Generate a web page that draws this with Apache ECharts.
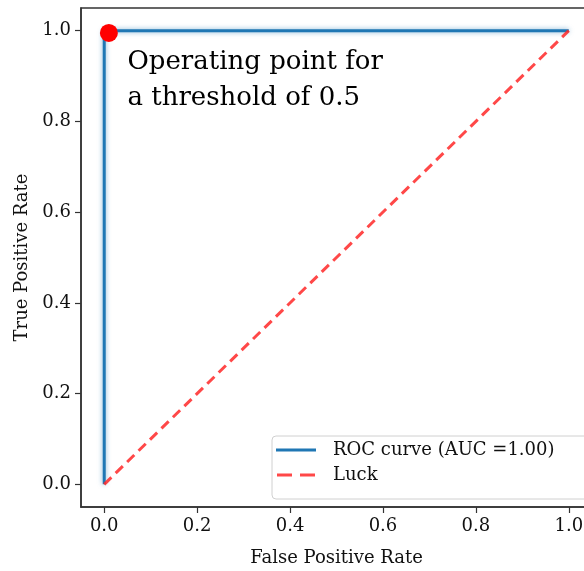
<!DOCTYPE html>
<html>
<head>
<meta charset="utf-8">
<script src="https://cdn.jsdelivr.net/npm/echarts@6/dist/echarts.min.js"></script>
<style>
  html, body { margin: 0; padding: 0; background: #fff; }
  #chart { width: 584px; height: 571px; }
</style>
</head>
<body>
<div id="chart"></div>
<script>
// ROC curve points (fpr, tpr)
const rocFpr = [0.0, 0.0, 1.0]
const rocTpr = [0.0, 1.0, 1.0]
// chance line
const luckFpr = [0.0, 1.0]
const luckTpr = [0.0, 1.0]
// operating point at threshold 0.5
const opPoint = [0.01, 0.995]
const noteAt = [0.05, 0.89]
const noteText = 'Operating point for\na threshold of 0.5'
const tickValues = [0.0, 0.2, 0.4, 0.6, 0.8, 1.0]

const font = 'DejaVu Serif'
const color = '#111'

const chart = echarts.init(document.getElementById('chart'))

const axisCommon = {
  type: 'value',
  min: -0.05,
  max: 1.05,
  nameLocation: 'middle',
  nameTextStyle: { fontFamily: font, fontSize: 18, color },
  axisLine: { show: true, onZero: false, lineStyle: { color: '#333', width: 1.5 } },
  axisTick: { show: true, customValues: tickValues, length: 6, lineStyle: { color: '#333', width: 1.2 } },
  axisLabel: {
    customValues: tickValues,
    fontFamily: font, fontSize: 18, color,
    margin: 10,
    formatter: v => v.toFixed(1)
  },
  splitLine: { show: false }
}

const option = {
  animation: false,
  grid: {
    left: 81, right: -8, top: 8, bottom: 64,
    outerBoundsMode: 'none',
    show: true, borderColor: '#333', borderWidth: 1.5
  },
  xAxis: Object.assign({}, axisCommon, {
    name: 'False Positive Rate',
    nameGap: 42
  }),
  yAxis: Object.assign({}, axisCommon, {
    name: 'True Positive Rate',
    nameGap: 50
  }),
  legend: {
    left: 272,
    top: 436,
    orient: 'vertical',
    itemWidth: 40,
    itemHeight: 3,
    itemGap: 7,
    padding: [5, 70, 15, 4],
    borderColor: '#d0d0d0',
    borderWidth: 1,
    borderRadius: 4,
    backgroundColor: '#fff',
    textStyle: { fontFamily: font, fontSize: 18, color, padding: [0, 0, 0, 12] },
    data: [
      { name: 'ROC curve (AUC =1.00)', icon: 'path://M0,0H40V3H0Z' },
      { name: 'Luck', icon: 'path://M0,0H15V3H0Z M23,0H38V3H23Z' }
    ]
  },
  series: [
    {
      name: 'ROC curve (AUC =1.00)',
      type: 'line',
      data: rocFpr.map((x, i) => [x, rocTpr[i]]),
      symbol: 'none',
      z: 2,
      lineStyle: {
        color: '#1f77b4', width: 3,
        shadowColor: 'rgba(31,119,180,0.6)', shadowBlur: 5
      },
      itemStyle: { color: '#1f77b4' }
    },
    {
      name: 'Luck',
      type: 'line',
      data: luckFpr.map((x, i) => [x, luckTpr[i]]),
      symbol: 'none',
      z: 3,
      lineStyle: { color: 'rgba(255,40,40,0.85)', width: 3, type: [10, 6] },
      itemStyle: { color: 'rgba(255,40,40,0.85)' }
    },
    {
      name: 'op',
      type: 'scatter',
      data: [opPoint],
      symbolSize: 18,
      z: 5,
      itemStyle: { color: '#ff0000', opacity: 1 }
    },
    {
      name: 'note',
      type: 'scatter',
      data: [noteAt],
      symbolSize: 0,
      silent: true,
      z: 6,
      label: {
        show: true,
        position: 'right',
        distance: 0,
        formatter: noteText,
        fontFamily: font,
        fontSize: 26,
        lineHeight: 36,
        color: '#000',
        opacity: 1
      }
    }
  ]
}

chart.setOption(option)
</script>
</body>
</html>
